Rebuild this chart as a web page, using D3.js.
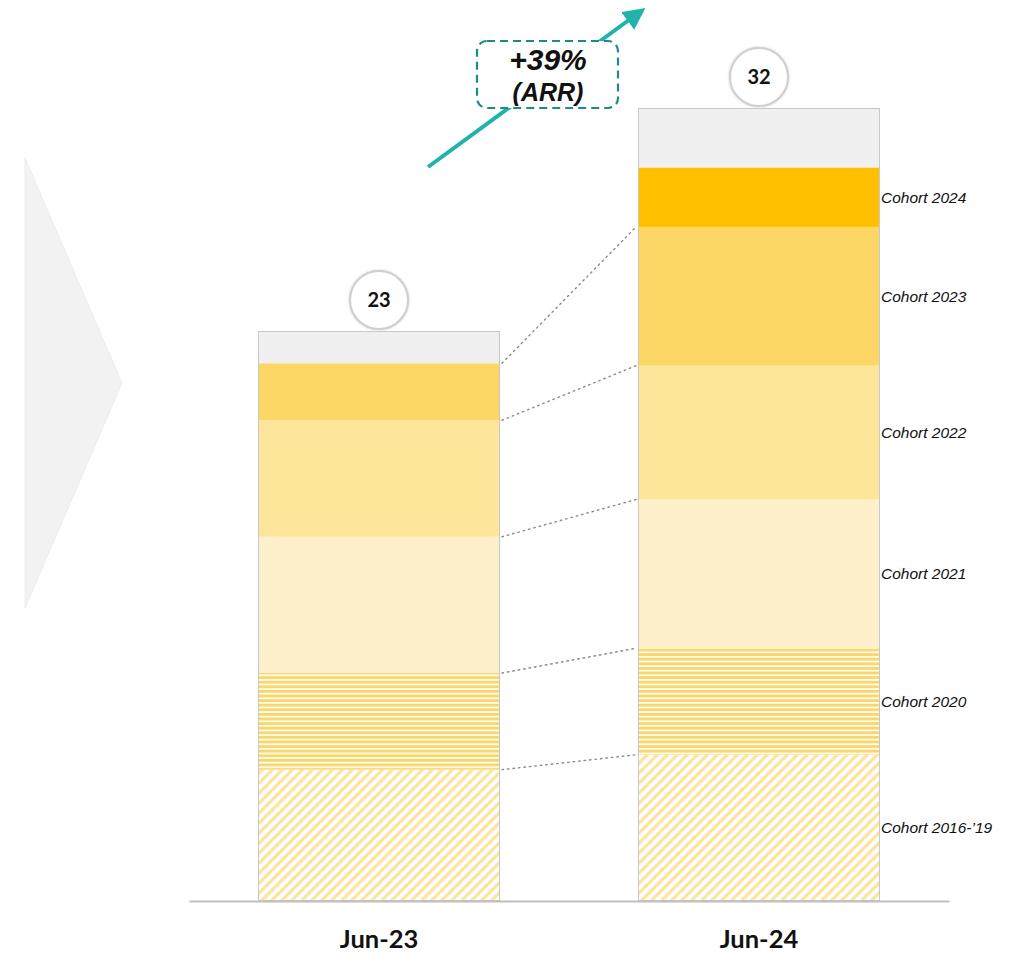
<!DOCTYPE html>
<html>
<head>
<meta charset="utf-8">
<script src="https://cdn.jsdelivr.net/npm/d3@7/dist/d3.min.js"></script>
<style>
  html, body { margin: 0; padding: 0; background: #ffffff; }
  svg { display: block; }
</style>
</head>
<body>
<svg id="chart" width="1020" height="954"></svg>
<script>
// ARR by customer cohort, stacked per period
const periods = ["Jun-23", "Jun-24"];
const cohorts = ["2016-’19", "2020", "2021", "2022", "2023", "2024", "Other"];
const cohortLabels = ["Cohort 2016-’19", "Cohort 2020", "Cohort 2021", "Cohort 2022", "Cohort 2023", "Cohort 2024", ""];
const valuesJun23 = [5.3, 3.9, 5.5, 4.7, 2.3, 0.0, 1.3];
const valuesJun24 = [5.9, 4.3, 6.0, 5.4, 5.6, 2.4, 2.4];
const totals = [23, 32];
const growthText = ["+39%", "(ARR)"];

const svg = d3.select("#chart");
const defs = svg.append("defs");

// Horizontal stripes for the 2020 cohort
const hp = defs.append("pattern").attr("id", "hstripe")
  .attr("patternUnits", "userSpaceOnUse").attr("width", 10).attr("height", 4.6);
hp.append("rect").attr("width", 10).attr("height", 4.6).attr("fill", "#fffaea");
hp.append("rect").attr("width", 10).attr("height", 2.7).attr("fill", "#f9d66c");

// Diagonal stripes for the 2016-'19 cohort
const dp = defs.append("pattern").attr("id", "dstripe")
  .attr("patternUnits", "userSpaceOnUse").attr("width", 7.07).attr("height", 10)
  .attr("patternTransform", "rotate(45)");
dp.append("rect").attr("width", 7.07).attr("height", 10).attr("fill", "#ffffff");
dp.append("rect").attr("width", 3.2).attr("height", 10).attr("fill", "#fce49c");

// Soft shadow for the total bubbles
const sh = defs.append("filter").attr("id", "soft").attr("x", "-30%").attr("y", "-30%").attr("width", "160%").attr("height", "160%");
sh.append("feDropShadow").attr("dx", 0).attr("dy", 0).attr("stdDeviation", 1.2).attr("flood-color", "#999").attr("flood-opacity", 0.5);

// Arrow marker
defs.append("marker").attr("id", "arrowhead")
  .attr("viewBox", "0 0 10 10").attr("refX", 3).attr("refY", 5)
  .attr("markerWidth", 5.5).attr("markerHeight", 5.5).attr("orient", "auto")
  .append("path").attr("d", "M0,0 L10,5 L0,10 Z").attr("fill", "#1fb3ac");

const fills = ["url(#dstripe)", "url(#hstripe)", "#fef0cb", "#fde59a", "#fdd766", "#ffc000", "#f0f0f0"];

// Scales
const x = d3.scaleBand().domain(periods).range([189, 949]).paddingInner(0.363).paddingOuter(0.1816);
const y = d3.scaleLinear().domain([0, 32]).range([901, 108]);

// Stack data
const rows = periods.map((p, i) => {
  const src = i === 0 ? valuesJun23 : valuesJun24;
  const r = { period: p };
  cohorts.forEach((c, j) => r[c] = src[j]);
  return r;
});
const series = d3.stack().keys(cohorts)(rows);

// Left chevron
svg.append("path")
  .attr("d", d3.line()([[25, 158], [122, 383], [25, 608]]) + "Z")
  .attr("fill", "#f2f2f2").attr("stroke", "#ececec").attr("stroke-width", 1);

// Segments
series.forEach((s, j) => {
  svg.append("g").selectAll("rect").data(s.filter(d => d[1] - d[0] > 0)).join("rect")
    .attr("x", d => x(d.data.period))
    .attr("y", d => y(d[1]))
    .attr("width", x.bandwidth())
    .attr("height", d => y(d[0]) - y(d[1]))
    .attr("fill", fills[j]);
});

// Bar outlines
svg.append("g").selectAll("rect").data(periods).join("rect")
  .attr("x", p => x(p) + 0.5)
  .attr("y", (p, i) => y(totals[i]) + 0.5)
  .attr("width", x.bandwidth() - 1)
  .attr("height", (p, i) => y(0) - y(totals[i]) - 1)
  .attr("fill", "none").attr("stroke", "#c8c8c8").attr("stroke-width", 1);

// Dotted connectors between matching cohort tops
const links = [0, 1, 2, 3, 4].map(j => ({
  y1: y(series[j][0][1]),
  y2: y(series[j][1][1])
}));
svg.append("g").selectAll("line").data(links).join("line")
  .attr("x1", x(periods[0]) + x.bandwidth() + 2)
  .attr("x2", x(periods[1]) - 2)
  .attr("y1", d => d.y1).attr("y2", d => d.y2)
  .attr("stroke", "#8a8a8a").attr("stroke-width", 1.4)
  .attr("stroke-dasharray", "1.5,4").attr("stroke-linecap", "round");

// Cohort labels beside the latest bar
svg.append("g").selectAll("text")
  .data(series.map((s, j) => ({ label: cohortLabels[j], d: s[1] })).filter(o => o.label))
  .join("text")
  .attr("x", x(periods[1]) + x.bandwidth() + 1)
  .attr("y", o => (y(o.d[0]) + y(o.d[1])) / 2)
  .attr("dy", "0.35em")
  .attr("font-family", "'Liberation Sans', Arial, sans-serif")
  .attr("font-style", "italic").attr("font-size", 15.5).attr("fill", "#111")
  .text(o => o.label);

// X axis
const xAxis = svg.append("g").attr("transform", `translate(0,${y(0)})`)
  .call(d3.axisBottom(x).tickSize(0).tickSizeOuter(0).tickPadding(29));
xAxis.select(".domain").attr("stroke", "#bfbfbf").attr("stroke-width", 2);
xAxis.selectAll("text")
  .attr("font-family", "Lato, 'Open Sans', sans-serif")
  .attr("font-weight", "bold").attr("font-size", 25.5).attr("fill", "#111");

// Total bubbles
const bubbles = svg.append("g").selectAll("g").data(periods).join("g")
  .attr("transform", (p, i) => `translate(${x(p) + x.bandwidth() / 2},${y(totals[i]) - 31})`);
bubbles.append("circle").attr("r", 29).attr("fill", "#fff")
  .attr("stroke", "#cfcfcf").attr("stroke-width", 2).attr("filter", "url(#soft)");
bubbles.append("text").attr("text-anchor", "middle").attr("dy", "0.36em")
  .attr("font-family", "Lato, 'Open Sans', sans-serif").attr("font-weight", "bold")
  .attr("font-size", 20).attr("fill", "#111")
  .text((p, i) => totals[i]);

// Growth arrow with dashed callout
svg.append("line")
  .attr("x1", 428).attr("y1", 167).attr("x2", 633).attr("y2", 17)
  .attr("stroke", "#1fb3ac").attr("stroke-width", 4).attr("marker-end", "url(#arrowhead)");
svg.append("rect")
  .attr("x", 477).attr("y", 41).attr("width", 141).attr("height", 67).attr("rx", 10)
  .attr("fill", "#fff").attr("stroke", "#1c8c86").attr("stroke-width", 2.2)
  .attr("stroke-dasharray", "8,5");
svg.append("text").attr("x", 548).attr("y", 70)
  .attr("text-anchor", "middle")
  .attr("font-family", "'Liberation Sans', Arial, sans-serif")
  .attr("font-style", "italic").attr("font-weight", "bold").attr("font-size", 30).attr("fill", "#111")
  .text(growthText[0]);
svg.append("text").attr("x", 548).attr("y", 101)
  .attr("text-anchor", "middle")
  .attr("font-family", "'Liberation Sans', Arial, sans-serif")
  .attr("font-style", "italic").attr("font-weight", "bold").attr("font-size", 25).attr("fill", "#111")
  .text(growthText[1]);
</script>
</body>
</html>
